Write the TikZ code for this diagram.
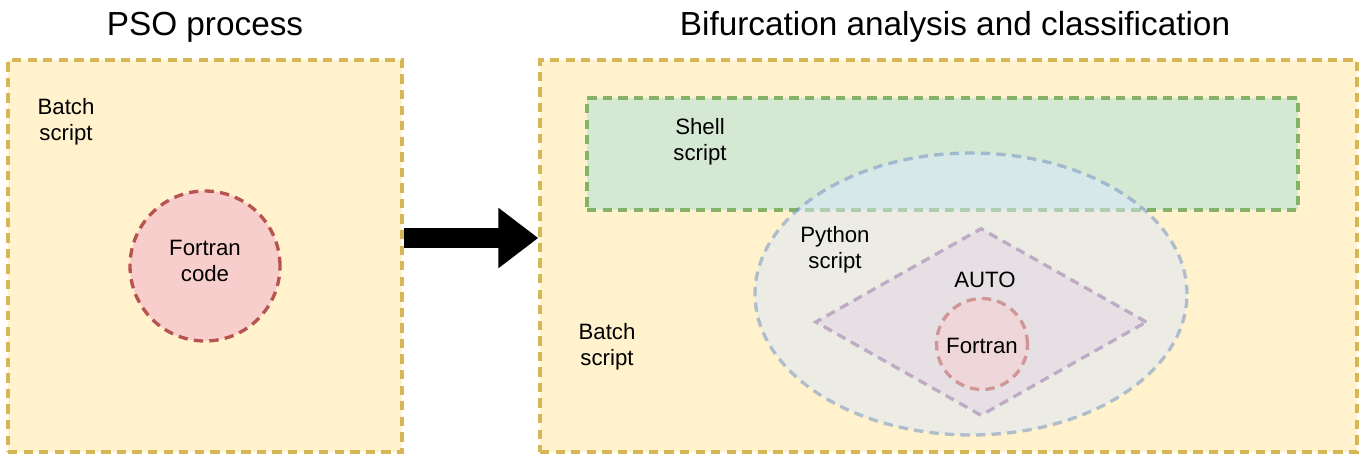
\documentclass[tikz,border=0pt]{standalone}
\usepackage{fontspec}
\setmainfont{Liberation Sans}
\usetikzlibrary{shapes.geometric,arrows.meta}
\definecolor{yfill}{HTML}{FFF2CC}
\definecolor{ydraw}{HTML}{D6B656}
\definecolor{gfill}{HTML}{D5E8D4}
\definecolor{gdraw}{HTML}{82B366}
\definecolor{bfill}{HTML}{DAE8FC}
\definecolor{bdraw}{HTML}{6C8EBF}
\definecolor{rfill}{HTML}{F8CECC}
\definecolor{rdraw}{HTML}{B85450}
\definecolor{pfill}{HTML}{E1D5E7}
\definecolor{pdraw}{HTML}{9673A6}
\begin{document}
\begin{tikzpicture}
  [x=0.45pt,y=-0.45pt,every node/.style={inner sep=0pt,align=center,font=\fontsize{10}{11.5}\selectfont}]
  \tikzstyle{area} = [draw,dash pattern=on 4.2pt off 2.8pt,line width=1.5pt]
  \tikzstyle{seethrough} = [opacity=.5,text opacity=1]
  \tikzstyle{title} = [font=\fontsize{15}{18}\selectfont]
  \useasboundingbox (0,0) rectangle (1361,454);
  % left part
  \node[title] (t1) at (205,27) {PSO process};
  \node[area,fill=yfill,draw=ydraw,minimum width=394*0.45pt,minimum height=392*0.45pt] (pso) at (205,256) {};
  \node (b1) at (66,122) {Batch\\script};
  \node[area,circle,fill=rfill,draw=rdraw,minimum size=150*0.45pt] (fc) at (205,266) {};
  \node (fct) at (205,261) {Fortran\\code};
  % right part
  \node[title] (t2) at (955,27) {Bifurcation analysis and classification};
  \node[area,fill=yfill,draw=ydraw,minimum width=817*0.45pt,minimum height=392*0.45pt] (bif) at (948.5,256) {};
  \node[area,fill=gfill,draw=gdraw,minimum width=711*0.45pt,minimum height=112*0.45pt] (shell) at (942.5,154) {};
  \node (st) at (700,142) {Shell\\script};
  \node[area,ellipse,seethrough,fill=bfill,draw=bdraw,minimum width=432*0.45pt,minimum height=282*0.45pt] (py) at (971,294) {};
  \node (pt) at (835,250) {Python\\script};
  \node[area,diamond,seethrough,fill=pfill,draw=pdraw,minimum width=332*0.45pt,minimum height=188*0.45pt] (auto) at (981,322) {};
  \node (at) at (985,280) {AUTO};
  \node[area,circle,seethrough,fill=rfill,draw=rdraw,minimum size=91*0.45pt] (f2) at (982,344) {};
  \node (f2t) at (982,346) {Fortran};
  \node (b2) at (607,347) {Batch\\script};
  \draw[line width=9pt,-{Triangle[length=18pt,width=26pt]}] ([yshift=8.1pt]pso.east) -- ([yshift=8.1pt]bif.west);
\end{tikzpicture}
\end{document}
